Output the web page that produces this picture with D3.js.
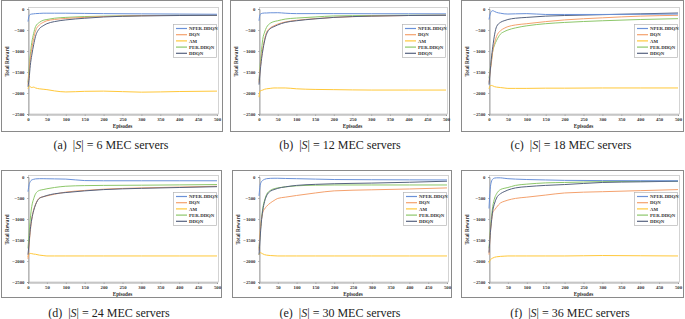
<!DOCTYPE html>
<html><head><meta charset="utf-8">
<script src="https://cdn.jsdelivr.net/npm/d3@7"></script>
<style>body{margin:0;background:#fff} svg{display:block}</style>
</head><body><svg id="c" width="685" height="319"></svg>
<script>
const episodes = [0, 3, 6, 10, 15, 20, 30, 40, 50, 70, 100, 150, 200, 300, 400, 500];
const seriesNames = ["NPER-DDQN", "DQN", "AM", "PER-DDQN", "DDQN"];
const seriesColors = ["#6A91D8", "#F4A16D", "#FFC83A", "#8DC76A", "#56637F"];
const yTicks = [0, -500, -1000, -1500, -2000, -2500];
const xTicks = [0, 50, 100, 150, 200, 250, 300, 350, 400, 450, 500];
const captionLetters = ["a", "b", "c", "d", "e", "f"];
const serverCounts = [6, 12, 18, 24, 30, 36];

// (a) 6 servers
const nperA = [-300, -160, -130, -120, -115, -110, -105, -100, -100, -100, -100, -105, -110, -115, -120, -125];
const dqnA  = [-1800, -1500, -1200, -950, -700, -520, -380, -320, -280, -250, -225, -200, -180, -160, -150, -145];
const amA   = [-1900, -1830, -1850, -1870, -1860, -1880, -1900, -1910, -1920, -1950, -1975, -1960, -1955, -1980, -1965, -1955];
const perA  = [-1750, -1400, -1100, -800, -580, -420, -320, -270, -250, -220, -200, -180, -170, -155, -150, -150];
const ddqnA = [-1850, -1650, -1350, -1100, -850, -650, -470, -400, -350, -300, -260, -220, -190, -165, -155, -150];
// (b) 12 servers
const nperB = [-280, -130, -110, -100, -95, -95, -90, -90, -88, -100, -110, -110, -110, -112, -113, -115];
const dqnB  = [-1750, -1450, -1200, -950, -720, -560, -450, -400, -360, -310, -270, -230, -200, -170, -155, -145];
const amB   = [-2100, -1950, -1940, -1930, -1910, -1900, -1890, -1880, -1880, -1880, -1900, -1915, -1920, -1930, -1930, -1930];
const perB  = [-1700, -1350, -1050, -720, -550, -440, -340, -300, -280, -240, -216, -190, -165, -155, -148, -144];
const ddqnB = [-1800, -1500, -1250, -1000, -760, -600, -470, -420, -380, -320, -280, -235, -200, -170, -155, -150];
// (c) 18 servers
const nperC = [-250, -120, -60, -40, -60, -80, -100, -115, -120, -115, -110, -130, -130, -130, -125, -120];
const dqnC  = [-1750, -1500, -1300, -1000, -800, -650, -520, -460, -420, -380, -350, -300, -260, -210, -170, -150];
const amC   = [-1900, -1830, -1820, -1830, -1850, -1860, -1870, -1880, -1890, -1890, -1890, -1885, -1885, -1880, -1880, -1880];
const perC  = [-1650, -1450, -1250, -1000, -850, -750, -600, -540, -500, -450, -400, -350, -320, -280, -250, -230];
const ddqnC = [-1800, -1500, -1200, -900, -600, -420, -320, -280, -250, -220, -200, -170, -155, -135, -115, -95];
// (d) 24 servers
const nperD = [-350, -180, -110, -70, -55, -45, -40, -40, -42, -45, -50, -85, -90, -90, -90, -90];
const dqnD  = [-1950, -1600, -1300, -1000, -780, -650, -500, -470, -450, -410, -360, -320, -290, -260, -240, -220];
const amD   = [-1900, -1830, -1820, -1825, -1835, -1840, -1860, -1870, -1880, -1880, -1880, -1880, -1880, -1880, -1880, -1880];
const perD  = [-1700, -1350, -1000, -700, -520, -400, -320, -300, -280, -250, -220, -205, -200, -195, -188, -180];
const ddqnD = [-1850, -1550, -1250, -1000, -800, -660, -510, -470, -440, -400, -370, -330, -300, -270, -250, -230];
// (e) 30 servers
const nperE = [-450, -200, -120, -80, -55, -40, -32, -30, -30, -35, -40, -50, -60, -65, -68, -70];
const dqnE  = [-1750, -1300, -1050, -850, -760, -700, -620, -560, -510, -480, -440, -380, -330, -305, -285, -260];
const amE   = [-1850, -1800, -1810, -1830, -1850, -1860, -1870, -1875, -1880, -1880, -1880, -1880, -1880, -1880, -1880, -1880];
const perE  = [-1700, -1350, -1050, -750, -550, -420, -320, -280, -260, -235, -210, -195, -190, -190, -190, -190];
const ddqnE = [-1850, -1450, -1100, -800, -580, -450, -340, -300, -270, -235, -200, -175, -160, -145, -125, -100];
// (f) 36 servers
const nperF = [-750, -300, -120, -50, -25, -20, -20, -30, -40, -50, -60, -70, -80, -85, -88, -90];
const dqnF  = [-1850, -1400, -1100, -850, -780, -720, -620, -580, -550, -510, -480, -430, -380, -350, -325, -300];
const amF   = [-2050, -1980, -1950, -1930, -1910, -1900, -1890, -1885, -1880, -1880, -1880, -1880, -1880, -1870, -1875, -1880];
const perF  = [-1700, -1300, -1000, -700, -500, -400, -300, -270, -250, -200, -170, -140, -130, -110, -105, -100];
const ddqnF = [-1800, -1400, -1100, -800, -620, -500, -400, -350, -310, -260, -230, -200, -180, -130, -115, -100];

const panelData = [
  [nperA, dqnA, amA, perA, ddqnA],
  [nperB, dqnB, amB, perB, ddqnB],
  [nperC, dqnC, amC, perC, ddqnC],
  [nperD, dqnD, amD, perD, ddqnD],
  [nperE, dqnE, amE, perE, ddqnE],
  [nperF, dqnF, amF, perF, ddqnF]
];

// layout (pixels)
const layout = [
  {frame: [1, 0, 222, 131],   plot: [28, 9, 217, 114],   cap: [111, 149]},
  {frame: [230, 0, 449, 131], plot: [259, 9, 446, 114],  cap: [340, 149]},
  {frame: [461, 0, 683, 131], plot: [489, 9, 678, 114],  cap: [571, 149]},
  {frame: [1, 170, 221, 297], plot: [28, 177, 217, 282], cap: [109, 317]},
  {frame: [232, 170, 451, 297], plot: [259, 177, 447, 282], cap: [340, 317]},
  {frame: [461, 170, 683, 297], plot: [489, 177, 678, 282], cap: [570, 317]}
];

const svg = d3.select("#c");
const drawOrder = [2, 3, 1, 4, 0];
const serif = "'Liberation Serif','Times New Roman',serif";

layout.forEach((L, i) => {
  const [fx0, fy0, fx1, fy1] = L.frame;
  const [px0, py0, px1, py1] = L.plot;
  const g = svg.append("g");
  g.append("rect").attr("x", fx0 + 0.5).attr("y", fy0 + 0.5)
    .attr("width", fx1 - fx0).attr("height", fy1 - fy0)
    .attr("fill", "#fff").attr("stroke", "#8a8a8a").attr("stroke-width", 1);
  g.append("rect").attr("x", px0 + 0.5).attr("y", py0 - 1.5)
    .attr("width", px1 - px0 + 1).attr("height", py1 - py0 + 1.5)
    .attr("fill", "none").attr("stroke", "#c9c9c9").attr("stroke-width", 0.8);

  const x = d3.scaleLinear().domain([0, 500]).range([px0, px1]);
  const y = d3.scaleLinear().domain([-2500, 0]).range([py1, py0]);

  const ax = g.append("g").attr("transform", `translate(0,${py1 + 0.5})`)
    .call(d3.axisBottom(x).tickValues(xTicks).tickSize(1.5).tickPadding(1.5).tickFormat(d3.format("d")));
  const ay = g.append("g").attr("transform", `translate(${px0 + 0.5},0)`)
    .call(d3.axisLeft(y).tickValues(yTicks).tickSize(1.5).tickPadding(2.5).tickFormat(d3.format("d")));
  [ax, ay].forEach(a => {
    a.select(".domain").attr("stroke", "#8f8f8f").attr("stroke-width", 0.8);
    a.selectAll(".tick line").attr("stroke", "#8f8f8f").attr("stroke-width", 0.6);
    a.selectAll("text").attr("font-family", serif).attr("font-size", 4.8)
      .attr("font-weight", "bold").attr("fill", "#333");
  });

  const line = d3.line().x((d, k) => x(episodes[k])).y(d => y(d)).curve(d3.curveMonotoneX);
  drawOrder.forEach(s => {
    g.append("path").datum(panelData[i][s]).attr("d", line)
      .attr("fill", "none").attr("stroke", seriesColors[s]).attr("stroke-width", 1);
  });

  g.append("text").attr("transform", `translate(${fx0 + 7.5},${(py0 + py1) / 2}) rotate(-90)`)
    .attr("text-anchor", "middle").attr("font-family", serif).attr("font-size", 5.2)
    .attr("font-weight", "bold").attr("fill", "#333").text("Total Reward");
  g.append("text").attr("x", (px0 + px1) / 2).attr("y", py1 + 14)
    .attr("text-anchor", "middle").attr("font-family", serif).attr("font-size", 5.2)
    .attr("font-weight", "bold").attr("fill", "#333").text("Episodes");

  // legend
  const lw = 43, lh = 33;
  const lx = px1 - lw - 1, ly = py0 + 15;
  const lg = g.append("g").attr("transform", `translate(${lx},${ly})`);
  lg.append("rect").attr("x", 0.5).attr("y", 0.5).attr("width", lw).attr("height", lh)
    .attr("fill", "#fff").attr("stroke", "#b5b5b5").attr("stroke-width", 0.7);
  seriesNames.forEach((n, s) => {
    const yy = 4.5 + s * 6.2;
    lg.append("line").attr("x1", 3).attr("x2", 14).attr("y1", yy).attr("y2", yy)
      .attr("stroke", seriesColors[s]).attr("stroke-width", 1.2);
    lg.append("text").attr("x", 16).attr("y", yy + 1.7).attr("font-family", serif)
      .attr("font-size", 4.8).attr("font-weight", "bold").attr("fill", "#333").text(n);
  });

  // caption
  const cap = svg.append("text").attr("x", L.cap[0]).attr("y", L.cap[1])
    .attr("text-anchor", "middle").attr("font-family", serif).attr("font-size", 12).attr("fill", "#222");
  cap.append("tspan").text(`(${captionLetters[i]})\u2002|`);
  cap.append("tspan").attr("font-style", "italic").text("S");
  cap.append("tspan").text(`| = ${serverCounts[i]} MEC servers`);
});
</script></body></html>
